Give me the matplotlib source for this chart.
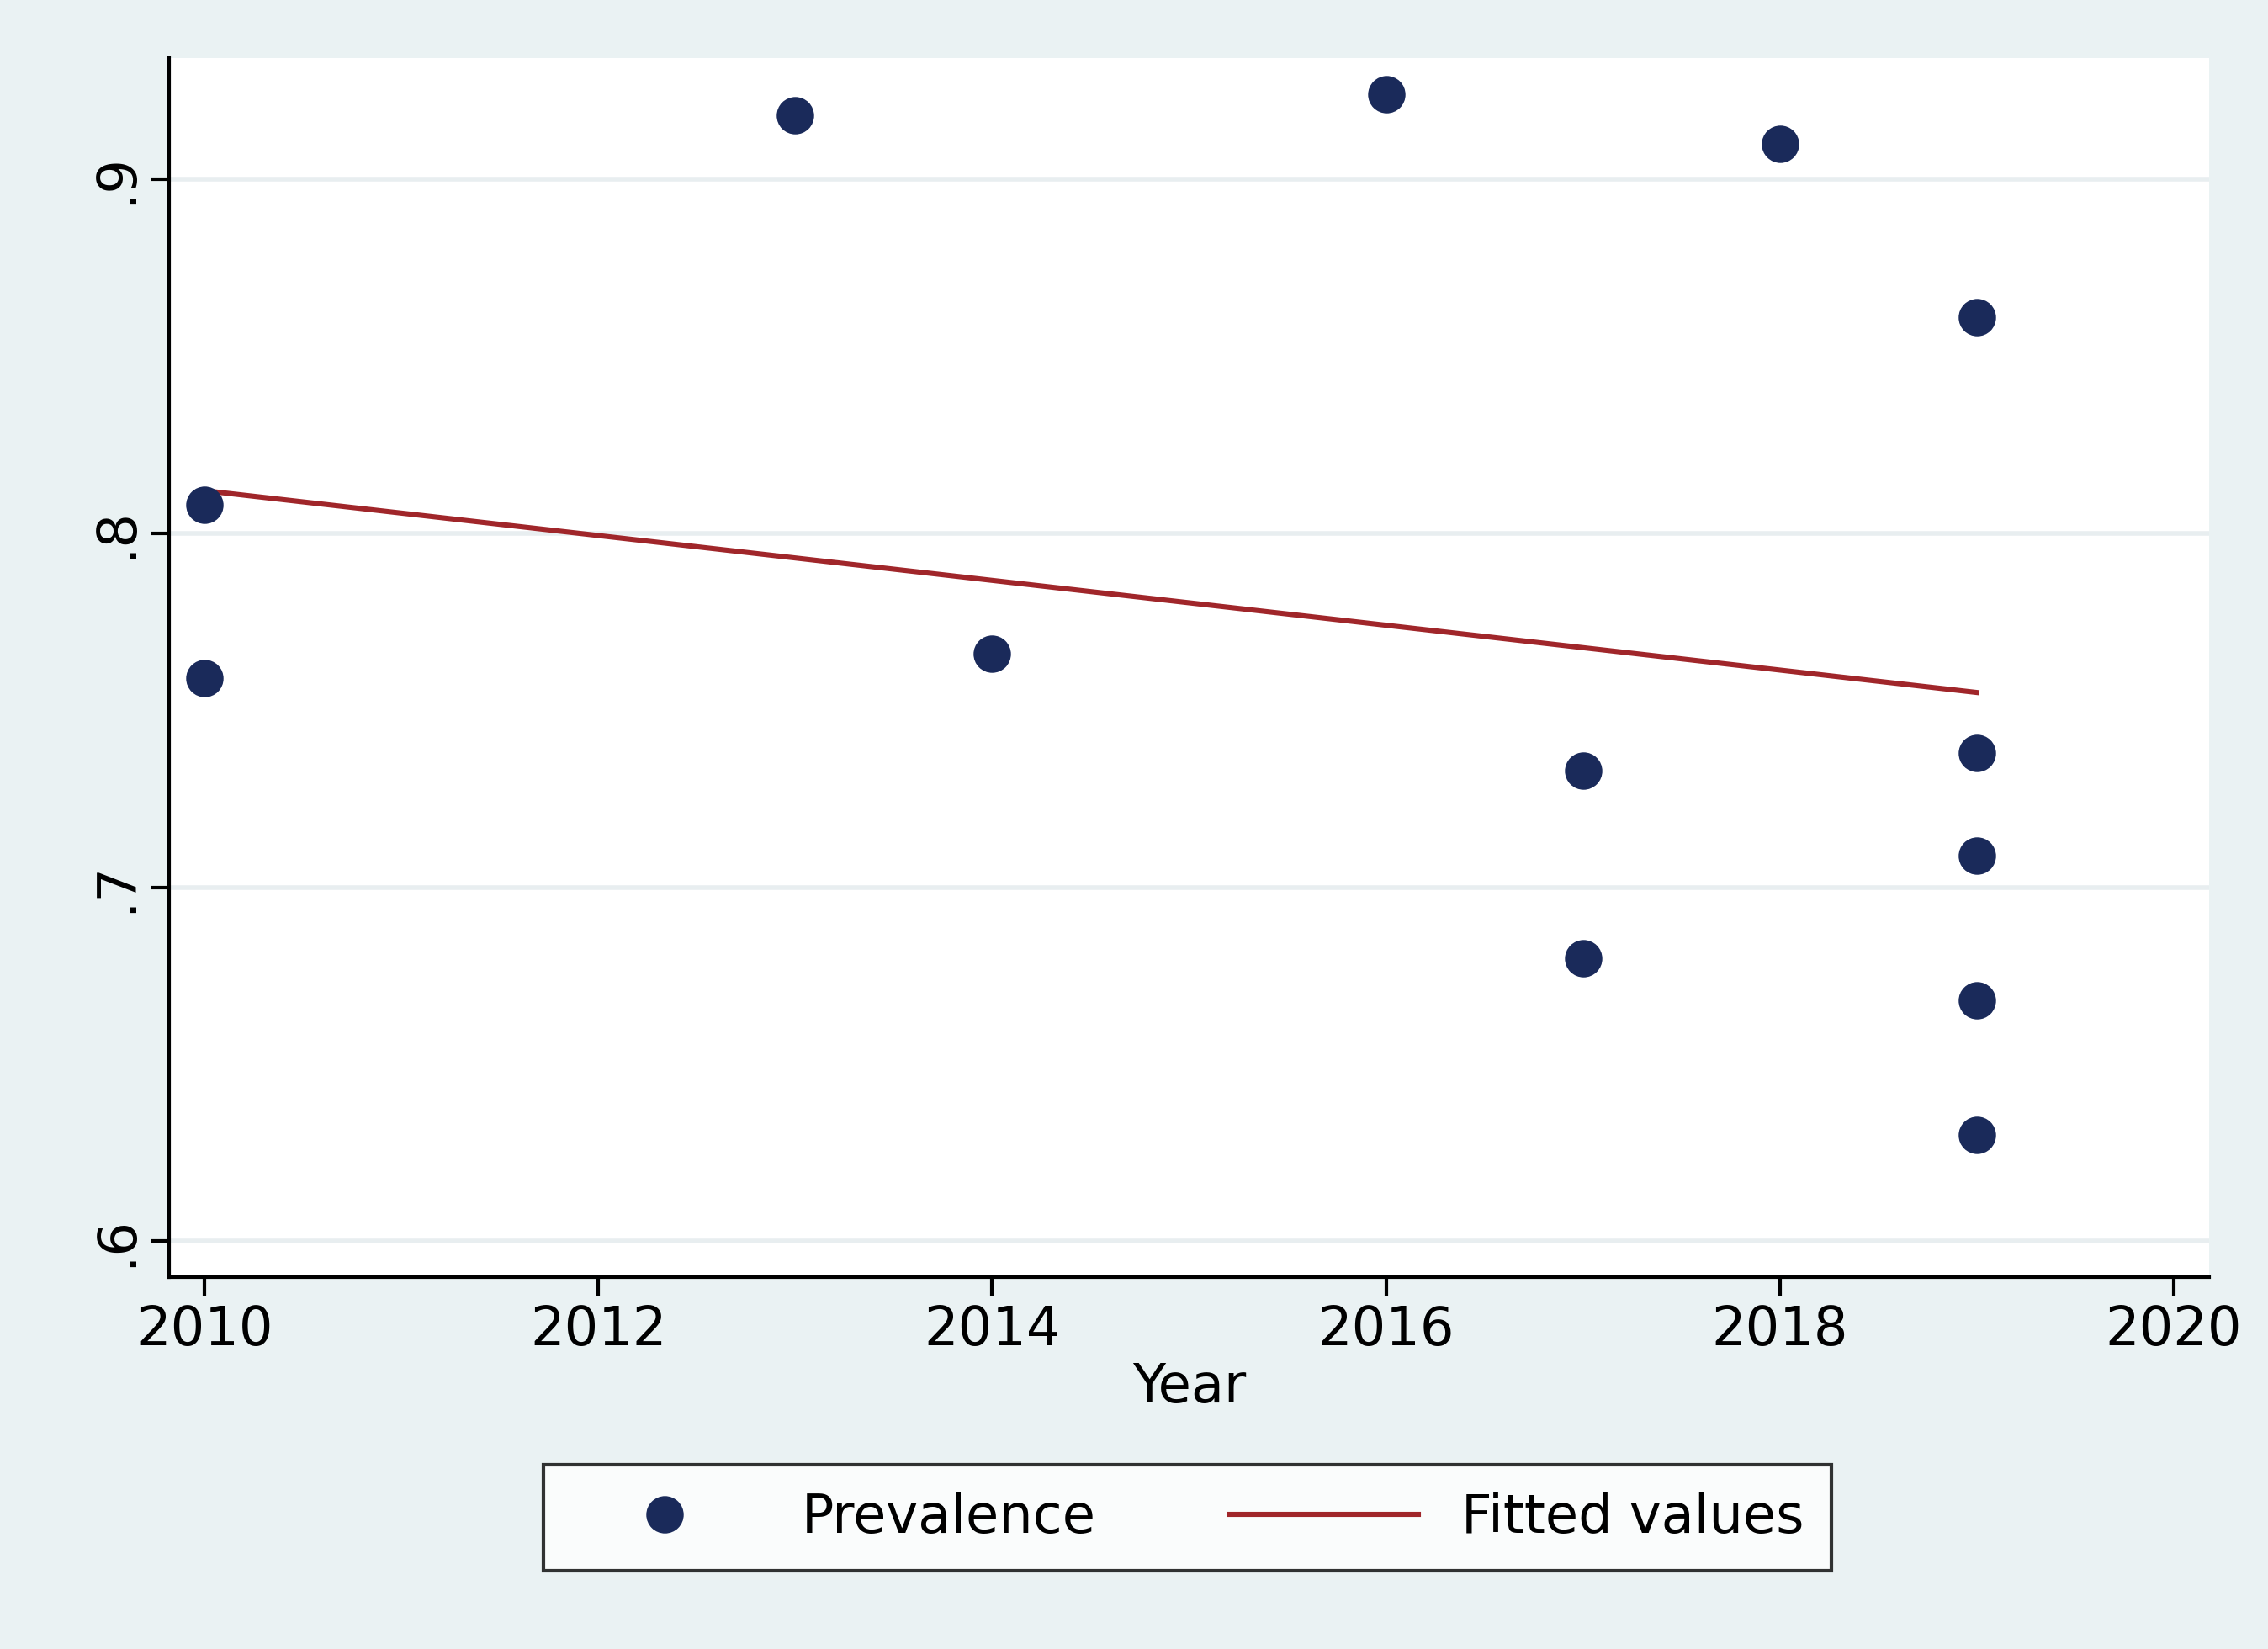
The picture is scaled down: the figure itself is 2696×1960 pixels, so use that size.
import matplotlib.pyplot as plt

years = [2010, 2010, 2013, 2014, 2016, 2017, 2017, 2018, 2019, 2019, 2019, 2019, 2019]
prevalence = [0.808, 0.759, 0.918, 0.766, 0.924, 0.733, 0.680, 0.910, 0.861, 0.738, 0.709, 0.668, 0.630]
fit_years = [2010, 2019]
fit_values = [0.812, 0.755]

bg = "#eaf2f3"
navy = "#1a2a5a"
red = "#a0262a"

fig = plt.figure(figsize=(13.48, 9.8), dpi=200, facecolor=bg)
ax = fig.add_axes([0.0746, 0.2254, 0.8994, 0.7396])
ax.set_facecolor("white")

ax.plot(fit_years, fit_values, color=red, lw=2.2, label="Fitted values", zorder=2)
ax.plot(years, prevalence, "o", color=navy, ms=15, label="Prevalence", zorder=3)

ax.set_xlim(2009.82, 2020.18)
ax.set_ylim(0.5898, 0.9343)
ax.set_xticks(range(2010, 2021, 2))
ax.set_yticks([0.6, 0.7, 0.8, 0.9])
ax.set_yticklabels([".6", ".7", ".8", ".9"], rotation=90, va="center")
ax.grid(axis="y", color="#e8eef0", lw=2)
ax.tick_params(labelsize=23, length=8, width=1.5)
for s in ["top", "right"]:
    ax.spines[s].set_visible(False)
for s in ["left", "bottom"]:
    ax.spines[s].set_linewidth(1.5)
ax.set_xlabel("Year", fontsize=23, labelpad=2)

h, l = ax.get_legend_handles_labels()
leg = fig.legend(h[::-1], l[::-1], loc="center", bbox_to_anchor=(0.5235, 0.0795), ncol=2,
                 fontsize=23, frameon=True, fancybox=False, edgecolor="black",
                 handlelength=3.5, columnspacing=2.5, borderpad=0.5)
leg.get_frame().set_linewidth(1.5)

fig.savefig("out.png", facecolor=bg)
